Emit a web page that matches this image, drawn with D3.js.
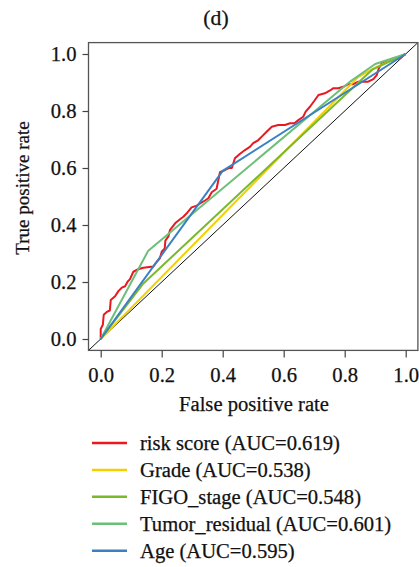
<!DOCTYPE html>
<html>
<head>
<meta charset="utf-8">
<script src="https://cdn.jsdelivr.net/npm/d3@7"></script>
<style>
  html, body { margin: 0; padding: 0; background: #fff; }
  svg { display: block; }
  text { font-family: "Liberation Serif", "Times New Roman", serif; fill: #111; stroke: #111; stroke-width: 0.25px; }
</style>
</head>
<body>
<svg id="chart" width="419" height="567"></svg>
<script>
// ---------- data (false positive rate, true positive rate) ----------
const riskScore = [
  [0,0],[0,0.035],[0.007,0.05],[0.01,0.085],[0.02,0.095],[0.03,0.1],[0.033,0.137],[0.047,0.15],
  [0.058,0.168],[0.069,0.18],[0.08,0.185],[0.088,0.201],[0.096,0.21],[0.107,0.236],[0.123,0.245],
  [0.14,0.25],[0.172,0.254],[0.184,0.271],[0.194,0.283],[0.2,0.306],[0.21,0.318],[0.212,0.345],
  [0.222,0.36],[0.227,0.382],[0.244,0.406],[0.26,0.42],[0.271,0.429],[0.282,0.441],[0.298,0.462],
  [0.315,0.468],[0.326,0.476],[0.342,0.486],[0.353,0.494],[0.364,0.515],[0.38,0.527],[0.391,0.585],
  [0.408,0.593],[0.42,0.6],[0.43,0.6],[0.44,0.634],[0.457,0.65],[0.473,0.663],[0.49,0.675],
  [0.5,0.687],[0.517,0.698],[0.528,0.71],[0.544,0.727],[0.561,0.745],[0.582,0.751],[0.604,0.751],
  [0.621,0.757],[0.635,0.757],[0.648,0.768],[0.664,0.78],[0.672,0.798],[0.686,0.815],[0.7,0.835],
  [0.714,0.856],[0.735,0.862],[0.752,0.872],[0.763,0.88],[0.779,0.88],[0.795,0.885],[0.812,0.894],
  [0.828,0.894],[0.845,0.903],[0.877,0.903],[0.894,0.912],[0.905,0.926],[0.912,0.95],[0.921,0.967],
  [0.938,0.973],[0.959,0.979],[0.981,0.985],[1,1]
];
const grade = [[0,0],[0.845,0.92],[0.905,0.955],[1,1]];
const figoStage = [[0,0],[0.14,0.195],[0.89,0.945],[1,1]];
const tumorResidual = [[0,0],[0.156,0.31],[0.82,0.905],[0.9,0.965],[1,1]];
const age = [[0,0],[0.40,0.59],[1,1]];

const seriesNames = ["risk score (AUC=0.619)", "Grade (AUC=0.538)", "FIGO_stage (AUC=0.548)",
                     "Tumor_residual (AUC=0.601)", "Age (AUC=0.595)"];
const seriesColors = ["#E8191F", "#F5D000", "#7AB82C", "#6CBF78", "#3B80C3"];
const seriesData = [riskScore, grade, figoStage, tumorResidual, age];

const tickValues = [0, 0.2, 0.4, 0.6, 0.8, 1.0];
const tickLabels = ["0.0", "0.2", "0.4", "0.6", "0.8", "1.0"];

// ---------- layout ----------
const svg = d3.select("#chart");
const pad = 0.04;
const x = d3.scaleLinear().domain([0, 1]).range([100.7, 405.7]);
const y = d3.scaleLinear().domain([0, 1]).range([339, 54]);
const x0 = x(-pad), x1 = x(1 + pad), y0 = y(-pad), y1 = y(1 + pad);
const stretch = 1.03;

function widen(sel) {
  sel.each(function() {
    const w = this.getComputedTextLength();
    d3.select(this).attr("textLength", w * stretch).attr("lengthAdjust", "spacingAndGlyphs");
  });
}

// title
svg.append("text").attr("x", 216).attr("y", 25).attr("text-anchor", "middle")
  .attr("font-size", 21).text("(d)").call(widen);

// diagonal reference line
svg.append("line")
  .attr("x1", x(-pad)).attr("y1", y(-pad)).attr("x2", x(1 + pad)).attr("y2", y(1 + pad))
  .attr("stroke", "#111").attr("stroke-width", 1);

// curves
const line = d3.line().x(d => x(d[0])).y(d => y(d[1]));
seriesData.forEach((s, i) => {
  svg.append("path").datum(s).attr("d", line)
    .attr("fill", "none").attr("stroke", seriesColors[i])
    .attr("stroke-width", 2).attr("stroke-linejoin", "round");
});

// box
svg.append("rect").attr("x", x0).attr("y", y1).attr("width", x1 - x0).attr("height", y0 - y1)
  .attr("fill", "none").attr("stroke", "#555").attr("stroke-width", 1.3);

// axes
const xAxis = d3.axisBottom(x).tickValues(tickValues).tickFormat((d, i) => tickLabels[i])
  .tickSizeInner(7).tickSizeOuter(0).tickPadding(10);
const gx = svg.append("g").attr("transform", `translate(0,${y0})`).call(xAxis);
gx.select(".domain").remove();
gx.selectAll("line").attr("stroke", "#444").attr("stroke-width", 1.2);
gx.selectAll("text").attr("font-size", 20).attr("fill", "#111")
  .attr("font-family", "Liberation Serif, serif").call(widen);

const yAxis = d3.axisLeft(y).tickValues(tickValues).tickFormat((d, i) => tickLabels[i])
  .tickSizeInner(6).tickSizeOuter(0).tickPadding(6);
const gy = svg.append("g").attr("transform", `translate(${x0},0)`).call(yAxis);
gy.select(".domain").remove();
gy.selectAll("line").attr("stroke", "#444").attr("stroke-width", 1.2);
gy.selectAll("text").attr("font-size", 20).attr("fill", "#111")
  .attr("font-family", "Liberation Serif, serif").call(widen);

// axis titles
svg.append("text").attr("x", 254).attr("y", 411).attr("text-anchor", "middle")
  .attr("font-size", 20).text("False positive rate").call(widen);
svg.append("text").attr("transform", "translate(29,188) rotate(-90)")
  .attr("text-anchor", "middle").attr("font-size", 19).text("True positive rate");

// legend
const legendY = d3.scalePoint().domain(d3.range(seriesNames.length)).range([443, 550.7]);
const lg = svg.append("g");
seriesNames.forEach((name, i) => {
  const yy = legendY(i);
  lg.append("line").attr("x1", 92).attr("x2", 127).attr("y1", yy).attr("y2", yy)
    .attr("stroke", seriesColors[i]).attr("stroke-width", 2.5);
  lg.append("text").attr("x", 140).attr("y", yy + 7).attr("font-size", 20).text(name).call(widen);
});
</script>
</body>
</html>
